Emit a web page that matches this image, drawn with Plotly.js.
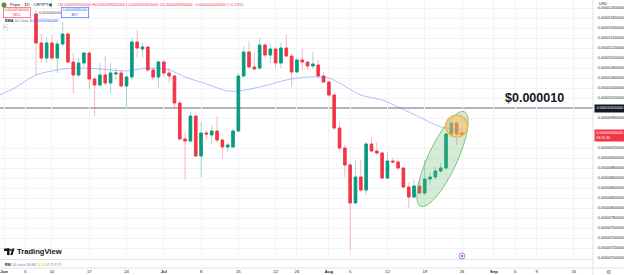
<!DOCTYPE html>
<html><head><meta charset="utf-8">
<script src="https://cdn.plot.ly/plotly-3.0.1.min.js"></script>
<style>html,body{margin:0;padding:0;background:#fff;}#chart{width:624px;height:275px;}</style>
</head><body><div id="chart"></div>
<script>
// ---------------- DATA ----------------
const firstDate = '2024-06-07';
const openVals  = [1188e-8,1130e-8,1100e-8,1130e-8,1100e-8,1128e-8,1148e-8,1092e-8,1066e-8,1090e-8,1110e-8,1058e-8,1046e-8,1066e-8,1050e-8,1068e-8,1070e-8,1044e-8,1062e-8,1132e-8,1118e-8,1122e-8,1076e-8,1062e-8,1092e-8,1070e-8,1064e-8,1010e-8,938e-8,934e-8,984e-8,904e-8,950e-8,946e-8,954e-8,936e-8,922e-8,922e-8,954e-8,1064e-8,1112e-8,1082e-8,1080e-8,1126e-8,1106e-8,1118e-8,1090e-8,1120e-8,1104e-8,1072e-8,1096e-8,1092e-8,1084e-8,1086e-8,1064e-8,1052e-8,1026e-8,960e-8,920e-8,886e-8,810e-8,862e-8,836e-8,928e-8,914e-8,910e-8,860e-8,894e-8,892e-8,880e-8,842e-8,822e-8,844e-8,830e-8,858e-8,862e-8,874e-8,880e-8,948e-8,970e-8,950e-8];
const highVals  = [1196e-8,1148e-8,1142e-8,1146e-8,1136e-8,1172e-8,1150e-8,1110e-8,1100e-8,1112e-8,1112e-8,1062e-8,1090e-8,1104e-8,1090e-8,1080e-8,1076e-8,1066e-8,1140e-8,1156e-8,1130e-8,1124e-8,1082e-8,1096e-8,1096e-8,1080e-8,1066e-8,1016e-8,952e-8,992e-8,986e-8,972e-8,956e-8,966e-8,984e-8,940e-8,930e-8,960e-8,1070e-8,1124e-8,1134e-8,1112e-8,1140e-8,1130e-8,1128e-8,1122e-8,1130e-8,1146e-8,1110e-8,1100e-8,1118e-8,1092e-8,1112e-8,1096e-8,1072e-8,1054e-8,1030e-8,972e-8,926e-8,892e-8,896e-8,896e-8,932e-8,942e-8,932e-8,912e-8,912e-8,900e-8,896e-8,882e-8,852e-8,856e-8,860e-8,896e-8,872e-8,882e-8,890e-8,950e-8,972e-8,974e-8,962e-8];
const lowVals   = [1066e-8,1090e-8,1090e-8,1096e-8,1070e-8,1122e-8,1090e-8,1030e-8,1062e-8,1082e-8,1038e-8,984e-8,1042e-8,1046e-8,1030e-8,1056e-8,1042e-8,1000e-8,1056e-8,1102e-8,1102e-8,1072e-8,1056e-8,1040e-8,1062e-8,1050e-8,1000e-8,936e-8,856e-8,930e-8,902e-8,862e-8,936e-8,928e-8,930e-8,898e-8,912e-8,920e-8,952e-8,1060e-8,1080e-8,1076e-8,1076e-8,1102e-8,1090e-8,1080e-8,1080e-8,1102e-8,1042e-8,1070e-8,1076e-8,1076e-8,1080e-8,1060e-8,1050e-8,1022e-8,956e-8,916e-8,862e-8,716e-8,808e-8,832e-8,826e-8,912e-8,906e-8,858e-8,858e-8,890e-8,876e-8,840e-8,800e-8,820e-8,828e-8,826e-8,846e-8,856e-8,870e-8,876e-8,942e-8,926e-8,942e-8];
const closeVals = [1130e-8,1100e-8,1130e-8,1100e-8,1128e-8,1148e-8,1092e-8,1066e-8,1090e-8,1110e-8,1058e-8,1046e-8,1066e-8,1050e-8,1070e-8,1070e-8,1044e-8,1062e-8,1132e-8,1120e-8,1122e-8,1076e-8,1062e-8,1092e-8,1070e-8,1064e-8,1010e-8,938e-8,934e-8,984e-8,904e-8,950e-8,948e-8,954e-8,936e-8,922e-8,926e-8,954e-8,1064e-8,1112e-8,1082e-8,1078e-8,1126e-8,1106e-8,1118e-8,1090e-8,1120e-8,1104e-8,1072e-8,1096e-8,1092e-8,1084e-8,1088e-8,1064e-8,1052e-8,1026e-8,960e-8,920e-8,886e-8,810e-8,862e-8,836e-8,928e-8,914e-8,910e-8,860e-8,894e-8,892e-8,880e-8,842e-8,822e-8,844e-8,830e-8,858e-8,862e-8,874e-8,880e-8,948e-8,970e-8,948e-8,946e-8];

const emaDates  = ['2024-05-31','2024-06-03','2024-06-07','2024-06-11','2024-06-14','2024-06-19','2024-06-24','2024-06-28','2024-07-02','2024-07-05','2024-07-09','2024-07-13','2024-07-15','2024-07-19','2024-07-24','2024-07-28','2024-08-01','2024-08-03','2024-08-07','2024-08-11','2024-08-14','2024-08-18','2024-08-22','2024-08-26'];
const emaValues = [1025e-8,1040e-8,1066e-8,1076e-8,1080e-8,1078e-8,1074e-8,1080e-8,1076e-8,1062e-8,1048e-8,1034e-8,1034e-8,1042e-8,1056e-8,1062e-8,1060e-8,1050e-8,1026e-8,1016e-8,1002e-8,982e-8,962e-8,956e-8];

const xTickDates  = ['2024-06-01','2024-06-05','2024-06-10','2024-06-17','2024-06-24','2024-07-01','2024-07-08','2024-07-15','2024-07-22','2024-07-26','2024-08-01','2024-08-05','2024-08-12','2024-08-19','2024-08-26','2024-09-01','2024-09-05','2024-09-09','2024-09-16'];
const xTickLabels = ['<b>Jun</b>','5','10','17','24','<b>Jul</b>','8','15','22','26','<b>Aug</b>','5','12','19','26','<b>Sep</b>','5','9','16'];
const yTickValues = [700e-8,720e-8,740e-8,760e-8,780e-8,800e-8,820e-8,840e-8,860e-8,880e-8,900e-8,920e-8,940e-8,960e-8,980e-8,1000e-8,1020e-8,1040e-8,1060e-8,1080e-8,1100e-8,1120e-8,1140e-8,1160e-8,1180e-8,1200e-8];

const symbolText = 'Pepe · 1D · CRYPTO';
const levelValue = 1000e-8;
const levelText  = '$0.000010';
const rsiLen = 14, rsiValue = '53.68', rsiMa = '54.94';
const countdown = '03:21:45';

// ---------------- helpers ----------------
const dates = openVals.map((_, i) => new Date(Date.UTC(2024, 5, 7) + i * 86400000).toISOString().slice(0, 10));
const bodyHigh = openVals.map((o, i) => Math.max(o, closeVals[i]));
const bodyLow  = openVals.map((o, i) => Math.min(o, closeVals[i]));
const f12 = v => v.toFixed(12);

const GREEN = '#089981', RED = '#f23645';
const PW = 593, PH = 259;
const fx = px => px / PW;
const fy = py => (PH - py) / PH;
const FONT = 'Liberation Sans, Arial, sans-serif';

const n = closeVals.length;
const lo = openVals[n-1], lh = highVals[n-1], ll = lowVals[n-1], lc = closeVals[n-1];
const chg = lc - closeVals[n-2];
const pct = chg / closeVals[n-2] * 100;
const ohlcText = `O${f12(lo)} H${f12(lh)} L${f12(ll)} C${f12(lc)} ${chg<0?'−':'+'}${f12(Math.abs(chg))} (${chg<0?'−':'+'}${Math.abs(pct).toFixed(2)}%)`;

// axis ticks hidden under the level label and the last-price label (as on TradingView)
const shownYTicks = yTickValues.filter(v => Math.abs(v - levelValue) > 5e-8 && Math.abs(v - lc) > 15e-8);

// ---------------- traces ----------------
const wicks = {
  type: 'candlestick', x: dates, open: openVals, high: highVals, low: lowVals, close: closeVals,
  increasing: {line: {color: 'rgba(8,153,129,0.35)', width: 1}, fillcolor: 'rgba(8,153,129,0.35)'},
  decreasing: {line: {color: 'rgba(242,54,69,0.35)', width: 1}, fillcolor: 'rgba(242,54,69,0.35)'},
  whiskerwidth: 0, hoverinfo: 'skip', showlegend: false
};
const bodies = {
  type: 'candlestick', x: dates, open: openVals, high: bodyHigh, low: bodyLow, close: closeVals,
  increasing: {line: {color: GREEN, width: 0.8}, fillcolor: GREEN},
  decreasing: {line: {color: RED, width: 0.8}, fillcolor: RED},
  whiskerwidth: 0, hoverinfo: 'skip', showlegend: false
};
const ema = {
  type: 'scatter', mode: 'lines', x: emaDates, y: emaValues,
  line: {color: 'rgba(41,98,255,0.38)', width: 1, shape: 'spline', smoothing: 0.8},
  hoverinfo: 'skip', showlegend: false
};

// ---------------- ellipse drawing path (pixel offsets) ----------------
const ea = 52, eb = 14.5, eth = 65 * Math.PI / 180;
let ePath = '';
for (let k = 0; k <= 60; k++) {
  const t = 2 * Math.PI * k / 60;
  const dx = ea * Math.cos(t) * Math.cos(eth) - eb * Math.sin(t) * Math.sin(eth);
  const dy = ea * Math.cos(t) * Math.sin(eth) + eb * Math.sin(t) * Math.cos(eth);
  ePath += (k ? 'L' : 'M') + dx.toFixed(2) + ',' + dy.toFixed(2);
}
ePath += 'Z';

const shapes = [
  {type: 'line', xref: 'paper', x0: 0, x1: 1, yref: 'y', y0: levelValue, y1: levelValue,
   line: {color: '#9a9ca3', width: 1.6}, layer: 'below'},
  {type: 'path', xref: 'x', yref: 'y', xsizemode: 'pixel', ysizemode: 'pixel',
   xanchor: '2024-08-22 08:00', yanchor: 898e-8, path: ePath,
   fillcolor: 'rgba(102,187,106,0.28)', line: {color: '#7cc47f', width: 1}, layer: 'above'},
  {type: 'circle', xref: 'x', yref: 'y', xsizemode: 'pixel', ysizemode: 'pixel',
   xanchor: '2024-08-25', yanchor: 964e-8, x0: -11, x1: 11, y0: -11, y1: 11,
   fillcolor: 'rgba(255,183,77,0.45)', line: {color: '#f5b041', width: 1.2}, layer: 'above'},
  {type: 'circle', xref: 'x', yref: 'paper', xsizemode: 'pixel', ysizemode: 'pixel',
   xanchor: '2024-08-26', yanchor: fy(256), x0: -3, x1: 3, y0: -3, y1: 3,
   fillcolor: 'rgba(171,71,188,0.12)', line: {color: '#ba68c8', width: 0.8}},
  {type: 'circle', xref: 'x', yref: 'paper', xsizemode: 'pixel', ysizemode: 'pixel',
   xanchor: '2024-08-26', yanchor: fy(256), x0: -1, x1: 1, y0: -1, y1: 1,
   fillcolor: '#ab47bc', line: {width: 0}},
  {type: 'line', xref: 'paper', yref: 'paper', x0: 0, x1: 624 / PW, y0: fy(268), y1: fy(268),
   line: {color: '#e0e3eb', width: 1}},
  {type: 'line', xref: 'paper', yref: 'paper', x0: 1, x1: 1, y0: fy(275), y1: 1,
   line: {color: '#e0e3eb', width: 1}},
  {type: 'circle', xref: 'paper', yref: 'paper', x0: fx(1.5), x1: fx(6.5), y0: fy(7.5), y1: fy(2.5),
   fillcolor: '#3f9b3c', line: {width: 0}},
  {type: 'circle', xref: 'paper', yref: 'paper', x0: fx(49), x1: fx(52), y0: fy(6.5), y1: fy(3.5),
   fillcolor: GREEN, line: {width: 0}},
  {type: 'rect', xref: 'paper', yref: 'paper', x0: fx(4), x1: fx(9.5), y0: fy(251), y1: fy(248.5),
   fillcolor: '#131722', line: {width: 0}},
  {type: 'rect', xref: 'paper', yref: 'paper', x0: fx(7), x1: fx(9.5), y0: fy(255), y1: fy(248.5),
   fillcolor: '#131722', line: {width: 0}},
  {type: 'circle', xref: 'paper', yref: 'paper', x0: fx(10), x1: fx(12), y0: fy(251), y1: fy(249),
   fillcolor: '#131722', line: {width: 0}},
  {type: 'path', xref: 'paper', yref: 'paper',
   path: `M${fx(12.5)},${fy(248.5)} L${fx(14.5)},${fy(248.5)} L${fx(12.5)},${fy(255)} L${fx(10.3)},${fy(255)} Z`,
   fillcolor: '#131722', line: {width: 0}}
];

const small = (size, color) => ({family: FONT, size: size, color: color});
const annotations = [
  {xref: 'paper', yref: 'paper', x: fx(8), y: fy(5), xanchor: 'left', yanchor: 'middle', showarrow: false,
   text: symbolText, font: small(4.4, '#131722')},
  {xref: 'paper', yref: 'paper', x: fx(56), y: fy(5), xanchor: 'left', yanchor: 'middle', showarrow: false,
   text: ohlcText, font: small(4, RED)},
  {xref: 'paper', yref: 'paper', x: fx(3), y: fy(12.5), xanchor: 'left', yanchor: 'middle', showarrow: false,
   text: f12(lc) + '<br>SELL', font: small(3.3, RED), align: 'center',
   bgcolor: '#ffffff', bordercolor: RED, borderwidth: 0.6, borderpad: 0.8},
  {xref: 'paper', yref: 'paper', x: fx(37), y: fy(12.5), xanchor: 'left', yanchor: 'middle', showarrow: false,
   text: f12(0), font: small(3.3, '#555')},
  {xref: 'paper', yref: 'paper', x: fx(61), y: fy(12.5), xanchor: 'left', yanchor: 'middle', showarrow: false,
   text: f12(lc) + '<br>BUY', font: small(3.3, '#2962ff'), align: 'center',
   bgcolor: '#ffffff', bordercolor: '#2962ff', borderwidth: 0.6, borderpad: 0.8},
  {xref: 'paper', yref: 'paper', x: fx(3), y: fy(21), xanchor: 'left', yanchor: 'middle', showarrow: false,
   text: `<b>EMA</b> <span style="color:#787b86">50 close</span> <span style="color:#2962ff">${f12(emaValues[emaValues.length-1])}</span>`,
   font: small(3.8, '#131722')},
  {xref: 'paper', yref: 'paper', x: fx(3), y: fy(27), xanchor: 'left', yanchor: 'middle', showarrow: false,
   text: '˄', font: small(3.8, '#555'), bgcolor: '#ffffff', bordercolor: '#d1d4dc', borderwidth: 0.5, borderpad: 0.6},
  {xref: 'paper', yref: 'y', x: fx(566), y: levelValue, xanchor: 'right', yanchor: 'bottom', yshift: 1, showarrow: false,
   text: `<b>${levelText}</b>`, font: {family: FONT, size: 12.5, color: '#131722'}},
  {xref: 'paper', yref: 'y', x: 1, y: levelValue, xanchor: 'left', yanchor: 'middle', showarrow: false, xshift: 1,
   text: f12(levelValue), font: small(3.6, '#ffffff'), bgcolor: '#131722', borderpad: 1.4},
  {xref: 'paper', yref: 'y', x: 1, y: lc, xanchor: 'left', yanchor: 'middle', showarrow: false, xshift: 1,
   text: f12(lc) + '<br>' + countdown, align: 'left', font: small(3.6, '#ffffff'), bgcolor: RED, borderpad: 1.2},
  {xref: 'paper', yref: 'paper', x: fx(597), y: fy(4.5), xanchor: 'left', yanchor: 'middle', showarrow: false,
   text: 'USD', font: small(3.8, '#131722')},
  {xref: 'paper', yref: 'paper', x: fx(14.5), y: fy(251.5), xanchor: 'left', yanchor: 'middle', showarrow: false,
   text: '<b>TradingView</b>', font: {family: FONT, size: 7.6, color: '#131722'}},
  {xref: 'paper', yref: 'paper', x: fx(3), y: fy(264.5), xanchor: 'left', yanchor: 'middle', showarrow: false,
   text: `<b>RSI</b> <span style="color:#787b86">${rsiLen} close</span> <span style="color:#7e57c2">${rsiValue}</span> <span style="color:#f5c400">${rsiMa}</span> <span style="color:#787b86">∅ ∅ ∅ ∅</span>`,
   font: small(3.6, '#131722')},
  {xref: 'paper', yref: 'paper', x: fx(608), y: fy(271.5), xanchor: 'center', yanchor: 'middle', showarrow: false,
   text: '⚙', font: {family: 'DejaVu Sans', size: 6, color: '#787b86'}}
];

const layout = {
  width: 624, height: 275,
  margin: {l: 0, r: 31, t: 0, b: 16, pad: 0},
  paper_bgcolor: '#ffffff', plot_bgcolor: '#ffffff',
  showlegend: false,
  font: {family: FONT, size: 4, color: '#131722'},
  xaxis: {
    type: 'date', range: ['2024-05-31 05:45', '2024-09-19 14:24'],
    rangeslider: {visible: false},
    tickmode: 'array', tickvals: xTickDates, ticktext: xTickLabels,
    tickfont: {family: FONT, size: 4.2, color: '#131722'},
    ticks: 'outside', ticklen: 8, tickcolor: 'rgba(0,0,0,0)',
    showgrid: true, gridcolor: '#f2f3f6', gridwidth: 1,
    showline: true, linecolor: '#e0e3eb', linewidth: 1,
    zeroline: false, fixedrange: true
  },
  yaxis: {
    side: 'right', range: [698e-8, 1216e-8],
    tickmode: 'array', tickvals: shownYTicks, tickformat: '.12f',
    tickfont: {family: FONT, size: 3.6, color: '#131722'},
    ticks: 'outside', ticklen: 3, tickcolor: 'rgba(0,0,0,0)',
    showgrid: true, gridcolor: '#f2f3f6', gridwidth: 1,
    showline: false, zeroline: false, fixedrange: true
  },
  shapes: shapes,
  annotations: annotations
};

Plotly.newPlot('chart', [wicks, ema, bodies], layout, {displayModeBar: false, staticPlot: true});
</script>
</body></html>
